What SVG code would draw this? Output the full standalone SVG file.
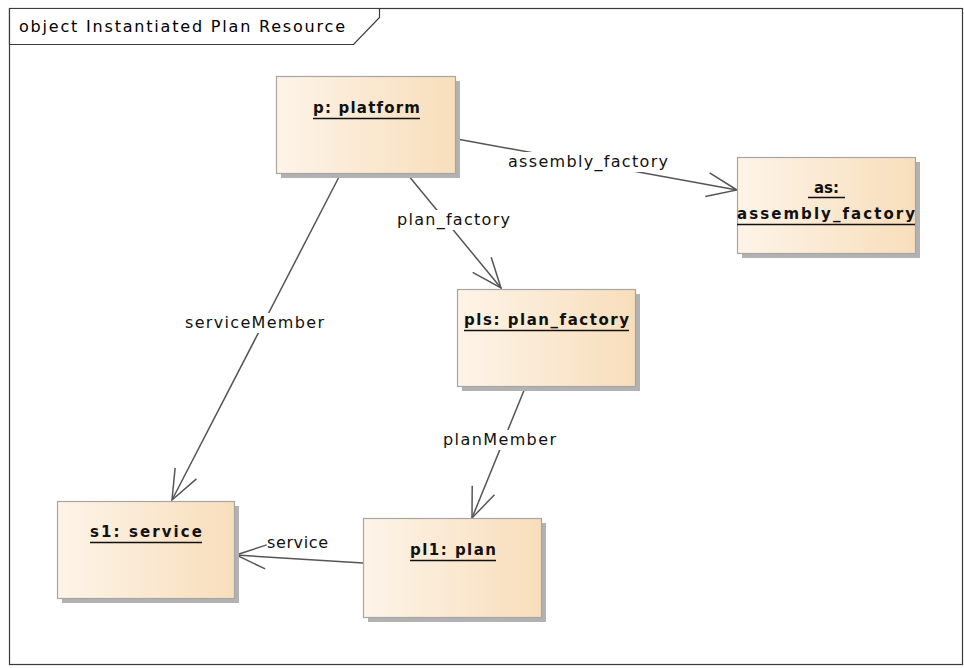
<svg xmlns="http://www.w3.org/2000/svg" width="964" height="668" viewBox="0 0 964 668">
<defs>
<linearGradient id="fill" x1="0" y1="0" x2="1" y2="0">
<stop offset="0" stop-color="#FDF4E8"/>
<stop offset="1" stop-color="#F8DEBB"/>
</linearGradient>
<marker id="open" markerUnits="userSpaceOnUse" markerWidth="40" markerHeight="30" viewBox="-32 -15 34 30" refX="0" refY="0" orient="auto">
<path d="M-30,-12 L0,0 L-30,12" fill="none" stroke="#555" stroke-width="1.5"/>
</marker>
</defs>
<style>
.frame{fill:none;stroke:#3a3a3a;stroke-width:1.2}
.tab{fill:#fff;stroke:#3a3a3a;stroke-width:1.2}
.title{font-family:"DejaVu Sans",Verdana,sans-serif;font-size:16px;fill:#000}
.shadow{fill:#b2b2b2}
.box{fill:url(#fill);stroke:#a6a6a6;stroke-width:1.2}
.name{font-family:"DejaVu Sans",Verdana,sans-serif;font-size:15px;font-weight:bold;fill:#111;text-anchor:middle}
.ul{stroke:#111;stroke-width:1.5}
.edge{fill:none;stroke:#555;stroke-width:1.5;marker-end:url(#open)}
.lblbg{fill:#fff}
.lbl{font-family:"DejaVu Sans",Verdana,sans-serif;font-size:16px;fill:#111;text-anchor:middle}
</style>
<rect width="964" height="668" fill="#fff"/>
<rect class="frame" x="9.5" y="8.5" width="953" height="656"/>
<path class="tab" d="M9.5,8.5 L379.5,8.5 L379.5,17.5 L353.5,44.5 L9.5,44.5 Z"/>
<text class="title" x="19" y="32" textLength="326" lengthAdjust="spacing">object Instantiated Plan Resource</text>

<g id="connectors">
<line class="edge" x1="457" y1="139" x2="737" y2="190"/>
<line class="edge" x1="408" y1="175" x2="501" y2="288"/>
<line class="edge" x1="340" y1="175" x2="172" y2="500"/>
<line class="edge" x1="525" y1="388" x2="472" y2="518"/>
<line class="edge" x1="363" y1="563" x2="236" y2="555"/>
<rect class="lblbg" x="506" y="152" width="164" height="20"/>
<text class="lbl" x="588" y="167" textLength="160" lengthAdjust="spacing">assembly_factory</text>
<rect class="lblbg" x="395" y="210" width="117" height="20"/>
<text class="lbl" x="453.5" y="225" textLength="113" lengthAdjust="spacing">plan_factory</text>
<rect class="lblbg" x="183" y="313" width="143" height="20"/>
<text class="lbl" x="254.5" y="328" textLength="139" lengthAdjust="spacing">serviceMember</text>
<rect class="lblbg" x="441" y="430" width="117" height="20"/>
<text class="lbl" x="499.5" y="445" textLength="113" lengthAdjust="spacing">planMember</text>
<rect class="lblbg" x="267" y="533" width="63" height="18"/>
<text class="lbl" x="297.5" y="548" textLength="61" lengthAdjust="spacing">service</text>
</g>

<g id="p-platform">
<rect class="shadow" x="281" y="81" width="179" height="97"/>
<rect class="box" x="276.5" y="76.5" width="179" height="97"/>
<text class="name" x="366.5" y="113" textLength="107" lengthAdjust="spacing">p: platform</text>
<line class="ul" x1="313" y1="118.5" x2="420" y2="118.5"/>
</g>

<g id="as-assembly-factory">
<rect class="shadow" x="742" y="162" width="178" height="96"/>
<rect class="box" x="737.5" y="157.5" width="178" height="96"/>
<text class="name" x="826.5" y="193">as:</text>
<line class="ul" x1="808" y1="197.5" x2="845" y2="197.5"/>
<text class="name" x="826" y="219" textLength="178" lengthAdjust="spacing">assembly_factory</text>
<line class="ul" x1="737" y1="224.5" x2="915" y2="224.5"/>
</g>

<g id="pls-plan-factory">
<rect class="shadow" x="462" y="294" width="178" height="97"/>
<rect class="box" x="457.5" y="289.5" width="178" height="97"/>
<text class="name" x="546.5" y="325" textLength="165" lengthAdjust="spacing">pls: plan_factory</text>
<line class="ul" x1="464" y1="330.5" x2="629" y2="330.5"/>
</g>

<g id="s1-service">
<rect class="shadow" x="62" y="506" width="177" height="97"/>
<rect class="box" x="57.5" y="501.5" width="177" height="97"/>
<text class="name" x="146" y="537" textLength="112" lengthAdjust="spacing">s1: service</text>
<line class="ul" x1="90" y1="542.5" x2="202" y2="542.5"/>
</g>

<g id="pl1-plan">
<rect class="shadow" x="368" y="523" width="178" height="99"/>
<rect class="box" x="363.5" y="518.5" width="178" height="99"/>
<text class="name" x="453" y="555" textLength="86" lengthAdjust="spacing">pl1: plan</text>
<line class="ul" x1="410" y1="560.5" x2="496" y2="560.5"/>
</g>
</svg>
